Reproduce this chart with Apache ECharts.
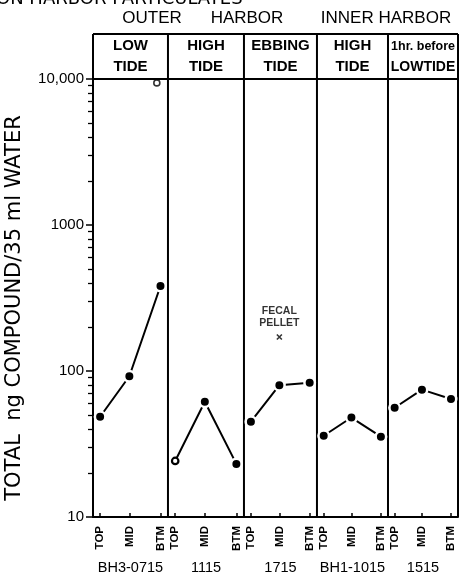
<!DOCTYPE html>
<html>
<head>
<meta charset="utf-8">
<script src="https://cdn.jsdelivr.net/npm/echarts@6/dist/echarts.min.js"></script>
<style>html,body{margin:0;padding:0;background:#fff}#c{width:460px;height:581px}</style>
</head>
<body>
<div id="c"></div>
<script>
// ---- data ----
const panelTitles = ['LOW\nTIDE', 'HIGH\nTIDE', 'EBBING\nTIDE', 'HIGH\nTIDE', '1hr. before\nLOWTIDE'];
const stations = ['BH3-0715', '1115', '1715', 'BH1-1015', '1515'];
const depths = ['TOP', 'MID', 'BTM'];
const lowTide = [48.6, 92, 382];
const highTideOuter = [24.2, 61.6, 23.1];
const ebbingTide = [45, 80, 83];
const highTideInner = [36, 48, 35.5];
const beforeLowTide = [56, 74.5, 64.3];
const seriesValues = [lowTide, highTideOuter, ebbingTide, highTideInner, beforeLowTide];
const lowTideBtmOutlier = 9400;      // open circle, LOW TIDE BTM
const fecalPellet = 171;             // EBBING TIDE, MID
const yTicks = [10, 100, 1000, 10000];
const yTickLabels = ['10', '100', '1000', '10,000'];

// ---- x scale structure (panel edges in axis units, sample position within panel) ----
const panelEdges = [0, 1.027, 2.068, 3.068, 4.041, 5];
const depthFrac = [0.095, 0.485, 0.9];

function sampleX(p, d) {
  return panelEdges[p] + depthFrac[d] * (panelEdges[p + 1] - panelEdges[p]);
}
const sampleXs = [], sampleLabelMap = {};
for (let p = 0; p < 5; p++) for (let d = 0; d < 3; d++) {
  const x = sampleX(p, d);
  sampleXs.push(x);
  sampleLabelMap[x.toFixed(4)] = depths[d];
}
const panelCenters = [], centerMap = {}, titleMap = {};
for (let p = 0; p < 5; p++) {
  const c = (panelEdges[p] + panelEdges[p + 1]) / 2;
  panelCenters.push(c);
  centerMap[c.toFixed(4)] = stations[p];
  titleMap[c.toFixed(4)] = p;
}
const minorTicks = [];
[10, 100, 1000].forEach(d => { for (let k = 2; k <= 9; k++) minorTicks.push(d * k); });

const series = seriesValues.map((vals, p) => ({
  type: 'line',
  xAxisIndex: 0, yAxisIndex: 0,
  data: vals.map((v, d) => [sampleX(p, d), v]),
  symbol: 'circle',
  symbolSize: 10.5,
  lineStyle: { color: '#000', width: 2 },
  itemStyle: { color: '#000', borderColor: '#fff', borderWidth: 2.5 },
  emphasis: { disabled: true },
  z: 5
}));
// hollow marker for HIGH TIDE (outer) TOP
series[1].data[0] = { value: [sampleX(1, 0), highTideOuter[0]], symbol: 'circle', symbolSize: 6.5,
  itemStyle: { color: '#fff', borderColor: '#000', borderWidth: 2.2 } };

series.push({
  type: 'scatter', xAxisIndex: 0, yAxisIndex: 0,
  data: [[sampleX(0, 2) - 0.05, lowTideBtmOutlier]],
  symbol: 'circle', symbolSize: 6,
  itemStyle: { color: '#fff', borderColor: '#000', borderWidth: 1.6 },
  emphasis: { disabled: true },
  z: 6
});
series.push({
  type: 'scatter', xAxisIndex: 0, yAxisIndex: 0,
  data: [[sampleX(2, 1), fecalPellet]],
  symbol: 'path://M0,0L10,10M10,0L0,10', symbolSize: 5,
  itemStyle: { color: 'transparent', borderColor: '#000', borderWidth: 1.6 },
  label: { show: true, position: 'top', distance: 5, formatter: 'FECAL\nPELLET',
    fontSize: 10.5, fontWeight: 'bold', lineHeight: 12, color: '#000', align: 'center' },
  emphasis: { disabled: true },
  z: 6
});

const chart = echarts.init(document.getElementById('c'), null, { renderer: 'canvas' });
const option = {
  animation: false,
  backgroundColor: '#fff',
  textStyle: { fontFamily: 'Liberation Sans', color: '#000' },
  grid: { left: 93, right: 2, top: 79, bottom: 64 },
  xAxis: [
    {
      type: 'value', min: 0, max: 5, position: 'bottom',
      axisLine: { show: true, onZero: false, lineStyle: { color: '#000', width: 2 } },
      axisTick: { show: true, inside: true, length: 4, customValues: sampleXs, lineStyle: { color: '#000', width: 1.5 } },
      axisLabel: { show: true, customValues: sampleXs, rotate: 90, margin: 9, fontSize: 11.5, fontWeight: 'bold', color: '#000',
        formatter: v => sampleLabelMap[v.toFixed(4)] || '' },
      splitLine: { show: false }
    },
    {
      type: 'value', min: 0, max: 5, position: 'bottom',
      axisLine: { show: false }, axisTick: { show: false },
      axisLabel: { show: true, customValues: panelCenters, margin: 43, fontSize: 14.5, color: '#000',
        formatter: v => centerMap[v.toFixed(4)] || '' },
      splitLine: { show: false }
    },
    {
      type: 'value', min: 0, max: 5, position: 'top',
      axisLine: { show: true, onZero: false, lineStyle: { color: '#000', width: 2 } },
      axisTick: { show: false },
      axisLabel: { show: true, customValues: panelCenters, margin: 2, fontSize: 15, fontWeight: 'bold', color: '#000', lineHeight: 20.5,
        formatter: v => {
          const i = titleMap[v.toFixed(4)];
          if (i === undefined) return '';
          if (i === 4) {
            const parts = panelTitles[i].split('\n');
            return '{s|' + parts[0] + '}\n{t|' + parts[1] + '}';
          }
          return panelTitles[i];
        },
        rich: {
          s: { fontSize: 12.5, fontWeight: 'bold', lineHeight: 20.5, color: '#000' },
          t: { fontSize: 14, fontWeight: 'bold', lineHeight: 20.5, color: '#000' }
        } },
      splitLine: { show: false }
    }
  ],
  yAxis: [
    {
      type: 'log', logBase: 10, min: 10, max: 10000, position: 'left',
      axisLine: { show: true, lineStyle: { color: '#000', width: 2 } },
      axisTick: { show: true, inside: false, length: 7, customValues: yTicks, lineStyle: { color: '#000', width: 1.5 } },
      axisLabel: { show: true, customValues: yTicks, margin: 9, fontSize: 15, color: '#000',
        formatter: v => yTickLabels[yTicks.indexOf(Math.round(v))] || '' },
      splitLine: { show: false }
    },
    {
      type: 'log', logBase: 10, min: 10, max: 10000, position: 'left',
      axisLine: { show: false },
      axisTick: { show: true, inside: false, length: 5, customValues: minorTicks, lineStyle: { color: '#000', width: 1.3 } },
      axisLabel: { show: false },
      splitLine: { show: false }
    }
  ],
  series: series
};
chart.setOption(option);

// header frame, dividers and titles (layout derived from axes)
const yTop = chart.convertToPixel({ yAxisIndex: 0 }, 10000);
const yBot = chart.convertToPixel({ yAxisIndex: 0 }, 10);
const headTop = yTop - 45;
const edgePx = panelEdges.map(e => chart.convertToPixel({ xAxisIndex: 0 }, e));
const g = [];
edgePx.forEach((x, i) => {
  g.push({ type: 'line', shape: { x1: x, y1: headTop, x2: x, y2: (i === 0 ? yTop : yBot) },
    style: { stroke: '#000', lineWidth: 2 }, z: 3 });
});
g.push({ type: 'line', shape: { x1: edgePx[0], y1: headTop, x2: edgePx[5], y2: headTop },
  style: { stroke: '#000', lineWidth: 2 }, z: 3 });
const hdr = { fontSize: 17, fontFamily: 'Liberation Sans', fill: '#000', align: 'center', verticalAlign: 'middle' };
g.push({ type: 'text', x: 152, y: 18, style: Object.assign({ text: 'OUTER' }, hdr) });
g.push({ type: 'text', x: 247, y: 18, style: Object.assign({ text: 'HARBOR' }, hdr) });
g.push({ type: 'text', x: 386, y: 18, style: Object.assign({ text: 'INNER HARBOR' }, hdr) });
g.push({ type: 'text', x: -4, y: -10, style: { text: 'ON HARBOR PARTICULATES', fontSize: 18, fontFamily: 'DejaVu Sans', fill: '#000', align: 'left', verticalAlign: 'top' } });
g.push({ type: 'text', x: 15, y: 308, rotation: Math.PI / 2,
  style: { text: 'TOTAL  ng COMPOUND/35 ml WATER', fontSize: 21, fontFamily: 'DejaVu Sans', fill: '#000', align: 'center', verticalAlign: 'middle' } });
chart.setOption({ graphic: g });
</script>
</body>
</html>
